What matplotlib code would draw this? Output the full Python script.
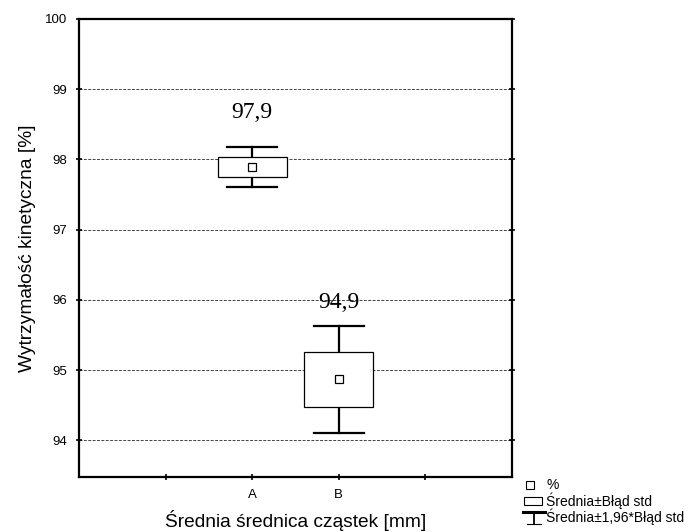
import matplotlib
matplotlib.use("Agg")
import matplotlib.pyplot as plt
from matplotlib.patches import Rectangle
from matplotlib.lines import Line2D
from matplotlib.legend_handler import HandlerBase

categories = ["A", "B"]
means = [97.89, 94.87]
std_err = [0.145, 0.387]
ci_factor = 1.96
value_labels = ["97,9", "94,9"]
x_positions = [2, 3]
label_offsets = [0.49, 0.34]

plt.rcParams['font.family'] = ['Liberation Sans', 'DejaVu Sans']

fig = plt.figure(figsize=(6.97, 5.32), dpi=100)
ax = fig.add_axes([0.1133, 0.1034, 0.6213, 0.8609])

box_w = 0.8
cap_w = 0.58
for x, m, se, lab, off in zip(x_positions, means, std_err, value_labels, label_offsets):
    ci = ci_factor * se
    # whiskers
    ax.plot([x, x], [m + se, m + ci], color='black', lw=1.6, zorder=3)
    ax.plot([x, x], [m - se, m - ci], color='black', lw=1.6, zorder=3)
    ax.plot([x - cap_w / 2, x + cap_w / 2], [m + ci, m + ci], color='black', lw=1.6, zorder=3)
    ax.plot([x - cap_w / 2, x + cap_w / 2], [m - ci, m - ci], color='black', lw=1.6, zorder=3)
    # box
    ax.add_patch(Rectangle((x - box_w / 2, m - se), box_w, 2 * se,
                           facecolor='white', edgecolor='black', lw=0.9, zorder=4))
    # mean marker
    ax.plot([x], [m], marker='s', markersize=6, markerfacecolor='white',
            markeredgecolor='black', markeredgewidth=0.9, zorder=5)
    ax.text(x, m + ci + off, lab, ha='center', va='center',
            fontsize=17, family=['Liberation Serif'], zorder=6)

ax.set_xlim(0, 5)
ax.set_ylim(93.48, 100)
ax.set_xticks([1, 2, 3, 4])
ax.set_xticklabels(["", categories[0], categories[1], ""], fontsize=9.5)
ax.set_yticks([94, 95, 96, 97, 98, 99, 100])
ax.set_yticklabels(["94", "95", "96", "97", "98", "99", "100"], fontsize=9.5)
ax.tick_params(axis='both', direction='inout', length=5, width=1.2, pad=6)
ax.tick_params(axis='y', right=True)
for y in [94, 95, 96, 97, 98, 99]:
    ax.axhline(y, color='#444444', lw=0.7, ls=(0, (3, 1.5)), zorder=1)
for s in ax.spines.values():
    s.set_linewidth(1.6)

ax.set_xlabel("Średnia średnica cząstek [mm]", fontsize=13.8, labelpad=6.5)
ax.set_ylabel("Wytrzymałość kinetyczna [%]", fontsize=13.8, labelpad=6.5)


class WhiskerHandler(HandlerBase):
    def create_artists(self, legend, orig_handle, xdescent, ydescent, width, height, fontsize, trans):
        cx = width / 2 - xdescent + 3
        top = height - ydescent + 1
        bot = -ydescent - 2
        l1 = Line2D([cx, cx], [bot, top], color='black', lw=1.3, transform=trans)
        l2 = Line2D([cx - 8, cx + 8], [top, top], color='black', lw=2.2, transform=trans)
        l3 = Line2D([cx - 5, cx + 5], [bot, bot], color='black', lw=0.8, transform=trans)
        return [l1, l2, l3]


class BoxHandler(HandlerBase):
    def create_artists(self, legend, orig_handle, xdescent, ydescent, width, height, fontsize, trans):
        r = Rectangle((-xdescent + 5, -ydescent), width - 5, height, facecolor='white',
                      edgecolor='black', lw=0.8, transform=trans)
        return [r]


mean_handle = Line2D([], [], marker='s', linestyle='none', markersize=5.5,
                     markerfacecolor='white', markeredgecolor='black', markeredgewidth=0.8)
box_handle = Rectangle((0, 0), 1, 1)
whisk_handle = Line2D([], [])

fig.legend([mean_handle, box_handle, whisk_handle],
           ["%", "Średnia±Błąd std", "Średnia±1,96*Błąd std"],
           handler_map={Rectangle: BoxHandler(), whisk_handle: WhiskerHandler()},
           loc='upper left', bbox_to_anchor=(0.742, 0.101), frameon=False,
           fontsize=10, handlelength=1.8, handleheight=0.55, handletextpad=0.3,
           labelspacing=0.0, borderpad=0, borderaxespad=0)

fig.savefig("out.png", dpi=100)
